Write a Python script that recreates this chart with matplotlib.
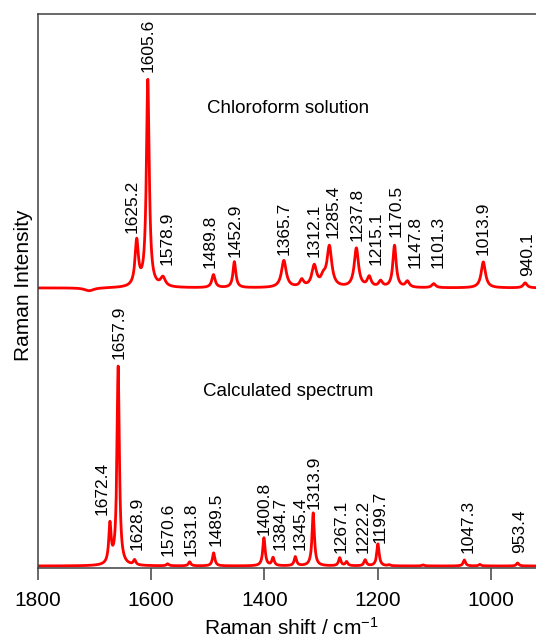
import numpy as np
import matplotlib
matplotlib.use("Agg")
import matplotlib.pyplot as plt

plt.rcParams['font.family'] = ['Liberation Sans', 'DejaVu Sans']
plt.rcParams['mathtext.default'] = 'regular'

# chloroform solution: peak position, height, half width
exp_pos = [1709, 1625.2, 1605.6, 1578.9, 1489.8, 1452.9, 1365.7, 1334, 1312.1, 1296,
           1285.4, 1237.8, 1215.1, 1195, 1170.5, 1147.8, 1101.3, 1013.9, 940.1]
exp_hgt = [-3, 45, 207, 9, 13, 26, 27, 7, 21, 8,
           40, 39, 10, 6, 42, 6, 4, 26, 5]
exp_hw = [10, 3.5, 3, 5, 3.5, 3, 5, 4, 5, 5,
          5, 4.5, 4, 4, 3.5, 4, 4, 4.5, 4]
exp_labels = ["1625.2", "1605.6", "1578.9", "1489.8", "1452.9", "1365.7", "1312.1",
              "1285.4", "1237.8", "1215.1", "1170.5", "1147.8", "1101.3", "1013.9", "940.1"]

# calculated spectrum
calc_pos = [1672.4, 1657.9, 1628.9, 1570.6, 1531.8, 1489.5, 1400.8, 1384.7, 1345.4,
            1313.9, 1267.1, 1255, 1222.2, 1199.7, 1180, 1120, 1047.3, 1020, 953.4]
calc_hgt = [39, 199, 5, 2, 4, 13, 28, 8, 9,
            53, 8, 4, 6, 22, 1, 1, 6, 1.5, 3]
calc_labels = ["1672.4", "1657.9", "1628.9", "1570.6", "1531.8", "1489.5", "1400.8",
               "1384.7", "1345.4", "1313.9", "1267.1", "1222.2", "1199.7", "1047.3", "953.4"]

# where the peak labels sit (x in cm-1, bottom of text)
exp_lab_x = [1634, 1605.6, 1571, 1496, 1452, 1365, 1312, 1279, 1237, 1203, 1167, 1134, 1093, 1014, 935]
exp_lab_y = [335, 496, 303, 300, 311, 313, 311, 330, 327, 303, 331, 300, 300, 313, 292]
calc_lab_x = [1686, 1657, 1625, 1570, 1529, 1486, 1401, 1373, 1337, 1312, 1265, 1226, 1196, 1041, 949]
calc_lab_y = [53, 209, 18, 12, 12, 22, 33, 18, 18, 59, 15, 15, 25, 15, 15]

exp_base = 280
calc_base = 2


def spectrum(x, pos, hgt, hw):
    y = np.zeros_like(x)
    for p, h, w in zip(pos, hgt, hw):
        y += h / (1 + ((x - p) / w) ** 2)
    return y


x = np.linspace(900, 1800, 4000)
y_exp = exp_base + spectrum(x, exp_pos, exp_hgt, exp_hw)
y_calc = calc_base + spectrum(x, calc_pos, calc_hgt, [2.5] * len(calc_pos))

fig = plt.figure(figsize=(5.36, 6.39), dpi=100)
ax = fig.add_axes([37.6 / 536, 71 / 639, 1 - 37.6 / 536, 554 / 639])

ax.plot(x, y_exp, color='#ff0000', lw=2.0)
ax.plot(x, y_calc, color='#ff0000', lw=2.0)

for t, lx, ly in zip(exp_labels, exp_lab_x, exp_lab_y):
    ax.text(lx, ly, t, rotation=90, ha='center', va='bottom', fontsize=12.5)
for t, lx, ly in zip(calc_labels, calc_lab_x, calc_lab_y):
    ax.text(lx, ly, t, rotation=90, ha='center', va='bottom', fontsize=12.5)

ax.text(1358, 460, "Chloroform solution", ha='center', va='center', fontsize=13.5)
ax.text(1358, 176, "Calculated spectrum", ha='center', va='center', fontsize=13.5)

ax.set_xlim(1800, 921)
ax.set_ylim(0, 554)
ax.set_xticks([1800, 1600, 1400, 1200, 1000])
ax.set_yticks([])
ax.tick_params(axis='x', direction='out', length=8.5, width=1.1, color='#404040',
               labelsize=15, pad=8)
for s in ['left', 'top', 'bottom']:
    ax.spines[s].set_color('#404040')
    ax.spines[s].set_linewidth(1.1)
ax.spines['right'].set_visible(False)

ax.set_xlabel("Raman shift / cm$^{-1}$", fontsize=15, labelpad=5, x=0.51)
ax.set_ylabel("Raman Intensity", fontsize=15, labelpad=3, y=0.51)

fig.savefig("out.png", dpi=100)
